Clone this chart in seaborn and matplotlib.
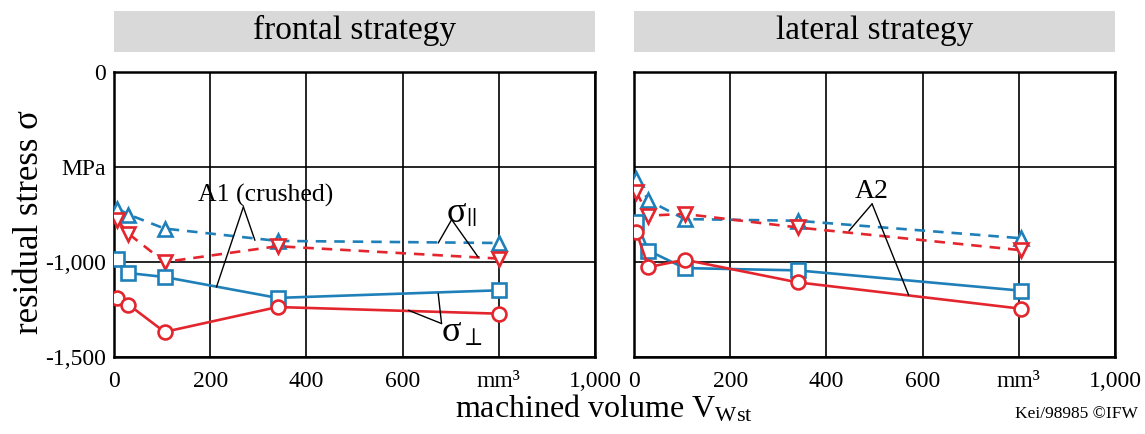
import numpy as np
import pandas as pd
import matplotlib.pyplot as plt
import seaborn as sns
from matplotlib.patches import Rectangle

# machined volume (mm^3)
volume_frontal = [7, 30, 105, 340, 800]
volume_lateral = [5, 30, 105, 340, 805]

# residual stress (MPa) - frontal strategy
frontal_par_blue = [-719, -750, -824, -889, -900]
frontal_par_red = [-780, -851, -1000, -917, -982]
frontal_perp_blue = [-986, -1058, -1079, -1189, -1149]
frontal_perp_red = [-1187, -1224, -1368, -1237, -1272]

# residual stress (MPa) - lateral strategy
lateral_par_blue = [-564, -676, -774, -783, -875]
lateral_par_red = [-632, -756, -747, -818, -938]
lateral_perp_blue = [-792, -940, -1032, -1044, -1151]
lateral_perp_red = [-842, -1027, -988, -1107, -1246]

panel_titles = ["frontal strategy", "lateral strategy"]
xtick_vals = [0, 200, 400, 600, 800, 1000]
xtick_labels = ["0", "200", "400", "600", "mm\u00b3", "1,000"]
ytick_vals = [0, -500, -1000, -1500]
ytick_labels = ["0", "MPa", "-1,000", "-1,500"]

blue = "#1f80b9"
red = "#e3262e"

sns.set_style("white")
plt.rcParams["font.family"] = ["Liberation Serif", "DejaVu Serif"]
plt.rcParams["mathtext.fontset"] = "stix"
plt.rcParams["text.color"] = "black"
plt.rcParams["xtick.color"] = "black"
plt.rcParams["ytick.color"] = "black"

fig = plt.figure(figsize=(11.45, 4.34), dpi=100)
W, H = 1145, 434
ax_l = fig.add_axes([114 / W, 1 - 357 / H, 481 / W, 285 / H])
ax_r = fig.add_axes([634 / W, 1 - 357 / H, 481 / W, 285 / H])

panels = [
    (ax_l, volume_frontal, frontal_par_blue, frontal_par_red, frontal_perp_blue, frontal_perp_red),
    (ax_r, volume_lateral, lateral_par_blue, lateral_par_red, lateral_perp_blue, lateral_perp_red),
]

for i, (ax, vol, pb, pr, sb, sr) in enumerate(panels):
    series = [
        (pb, blue, "^", (0, (4, 3))),
        (pr, red, "v", (0, (4, 3))),
        (sb, blue, "s", "-"),
        (sr, red, "o", "-"),
    ]
    for vals, col, mk, ls in series:
        df = pd.DataFrame({"volume": vol, "stress": vals})
        sns.lineplot(data=df, x="volume", y="stress", ax=ax, color=col, lw=1.9,
                     linestyle=ls, marker=mk, markersize=10, mfc="white", mec=col,
                     mew=1.9, sort=False, estimator=None, zorder=3)

    ax.set_xlim(0, 1000)
    ax.set_ylim(-1500, 0)
    ax.set_xticks(xtick_vals)
    ax.set_xticklabels(xtick_labels)
    ax.set_yticks(ytick_vals)
    if i == 0:
        ax.set_yticklabels(ytick_labels)
    else:
        ax.set_yticklabels([])
    ax.tick_params(axis="both", length=0, labelsize=17, labelcolor="black")
    ax.tick_params(axis="x", pad=10)
    ax.tick_params(axis="y", pad=6)
    ax.grid(True, color="black", lw=1.2)
    for s in ax.spines.values():
        s.set_color("black")
        s.set_linewidth(1.8)
    ax.set_xlabel("")
    ax.set_ylabel("")

    # gray strip title
    ax.add_patch(Rectangle((0, 1.071), 1, 0.143, transform=ax.transAxes,
                           clip_on=False, color="#d9d9d9", lw=0))
    ax.text(0.5, 1.145, panel_titles[i], transform=ax.transAxes, ha="center",
            va="center", fontsize=24)

# annotation leader lines
def leader(ax, apex, ends):
    for e in ends:
        ax.plot([apex[0], e[0]], [apex[1], e[1]], color="black", lw=1, zorder=4)

ax_l.text(316, -652, "A1 (crushed)", ha="center", va="center", fontsize=18.5)
leader(ax_l, (269, -710), [(293, -886), (213, -1132)])
ax_l.text(722, -745, "\u03c3$_{||}$", ha="center", va="center", fontsize=26)
leader(ax_l, (702, -777), [(674, -900), (757, -974)])
ax_l.text(724, -1372, "\u03c3$_{\\perp}$", ha="center", va="center", fontsize=26)
leader(ax_l, (681, -1324), [(674, -1166), (612, -1254)])

ax_r.text(495, -630, "A2", ha="center", va="center", fontsize=20)
leader(ax_r, (495, -694), [(447, -836), (571, -1174)])

fig.text(30 / W, 1 - 222 / H, "residual stress \u03c3", rotation=90,
         ha="center", va="center", fontsize=25)
fig.text(604 / W, 1 - 409 / H, r"machined volume V$_\mathregular{Wst}$",
         ha="center", va="center", fontsize=23)
fig.text(1138 / W, 1 - 414 / H, "Kei/98985 \u00a9IFW", ha="right",
         va="center", fontsize=12.5)

fig.savefig("out.png", dpi=100)
